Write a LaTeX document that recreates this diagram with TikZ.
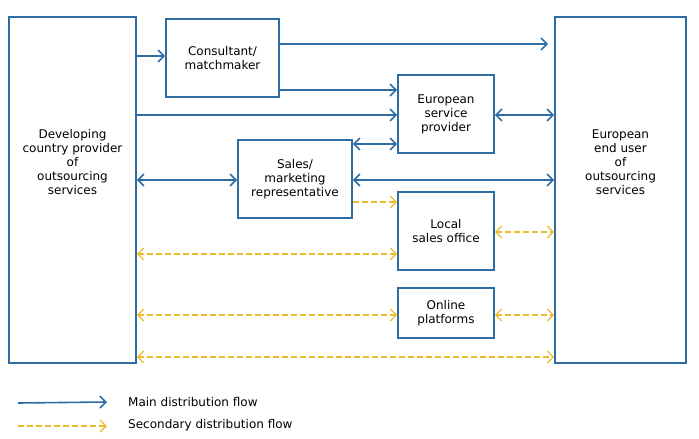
\documentclass[tikz,border=0pt]{standalone}
\usepackage{fontspec}
\setmainfont{DejaVu Sans}
\usepackage{xcolor}
\definecolor{cFlow}{HTML}{2E6DA4}
\definecolor{cSecond}{HTML}{EDBE2C}
\usepackage{tikz}
\usetikzlibrary{positioning,arrows.meta}
\tikzset{
  node-box/.style={draw=cFlow,line width=1.6pt,inner sep=0pt,
    minimum height=78pt,align=center},
  node-text/.style={align=center,inner sep=0pt},
  arrow-main/.style={-{Straight Barb[length=6pt,width=12pt]},line width=1.6pt,draw=cFlow},
  arrow-main-both/.style={arrow-main,
    {Straight Barb[length=6pt,width=12pt]}-{Straight Barb[length=6pt,width=12pt]}},
  arrow-second/.style={{Straight Barb[length=6pt,width=12pt]}-{Straight Barb[length=6pt,width=12pt]},
    line width=1.3pt,draw=cSecond,dash pattern=on 6pt off 3pt},
  arrow-second-one/.style={arrow-second,-{Straight Barb[length=6pt,width=12pt]}},
}

\begin{document}
\begin{tikzpicture}[x=1pt,y=-1pt,font=\fontsize{12}{14}\selectfont]
  \useasboundingbox (0,0) rectangle (699,439);
  % boxes
  \node[node-box,minimum width=127pt,minimum height=346pt] (dev) at (72.5,190) {};
  \node[node-box,minimum width=131pt,minimum height=346pt] (eu)  at (620.5,190) {};
  \node[node-text] (devtxt) at (72.5,162) {Developing\\country provider\\of\\outsourcing\\services};
  \node[node-text] (eutxt)  at (620.5,162) {European\\end user\\of\\outsourcing\\services};
  \node[node-box,minimum width=113pt] (cons)  at (222.5,58) {Consultant/\\matchmaker};
  \node[node-box,minimum width=96pt]  (esp)   at (446,114)  {European\\service\\provider};
  \node[node-box,minimum width=114pt] (sales) at (295,179)  {Sales/\\marketing\\representative};
  \node[node-box,minimum width=96pt]  (local) at (446,231)  {Local\\sales office};
  \node[node-box,minimum width=96pt,minimum height=50pt] (online) at (446,313) {Online\\platforms};
  % rows of the connectors
  \coordinate (r44)  at (0,44);
  \coordinate (r56)  at (0,56);
  \coordinate (r90)  at (0,90);
  \coordinate (r115) at (0,115);
  \coordinate (r144) at (0,144);
  \coordinate (r180) at (0,180);
  \coordinate (r202) at (0,202);
  \coordinate (r232) at (0,232);
  \coordinate (r254) at (0,254);
  \coordinate (r315) at (0,315);
  \coordinate (r357) at (0,357);
  % main flows
  \draw[arrow-main] (dev.east |- r56) -- (cons.west |- r56);
  \draw[arrow-main,shorten >=6pt] (cons.east |- r44) -- (eu.west |- r44);
  \draw[arrow-main] (cons.east |- r90) -- (esp.west |- r90);
  \draw[arrow-main] (dev.east |- r115) -- (esp.west |- r115);
  \draw[arrow-main-both] (sales.east |- r144) -- (esp.west |- r144);
  \draw[arrow-main-both] (esp.east |- r115) -- (eu.west |- r115);
  \draw[arrow-main-both] (dev.east |- r180) -- (sales.west |- r180);
  \draw[arrow-main-both] (sales.east |- r180) -- (eu.west |- r180);
  % secondary flows
  \draw[arrow-second-one] (sales.east |- r202) -- (local.west |- r202);
  \draw[arrow-second] (local.east |- r232) -- (eu.west |- r232);
  \draw[arrow-second] (dev.east |- r254) -- (local.west |- r254);
  \draw[arrow-second] (dev.east |- r315) -- (online.west |- r315);
  \draw[arrow-second] (online.east |- r315) -- (eu.west |- r315);
  \draw[arrow-second] (dev.east |- r357) -- (eu.west |- r357);
  % legend
  \coordinate (keymainA) at (18,403);
  \coordinate (keymainB) at (107,402);
  \coordinate (keysecA)  at (18,426);
  \coordinate (keysecB)  at (107,426);
  \draw[arrow-main] (keymainA) -- (keymainB);
  \draw[arrow-second-one] (keysecA) -- (keysecB);
  \node[anchor=west,inner sep=0pt] (keymain) at (128,402) {Main distribution flow};
  \node[anchor=west,inner sep=0pt] (keysec)  at (128,425) {Secondary distribution flow};
\end{tikzpicture}
\end{document}
